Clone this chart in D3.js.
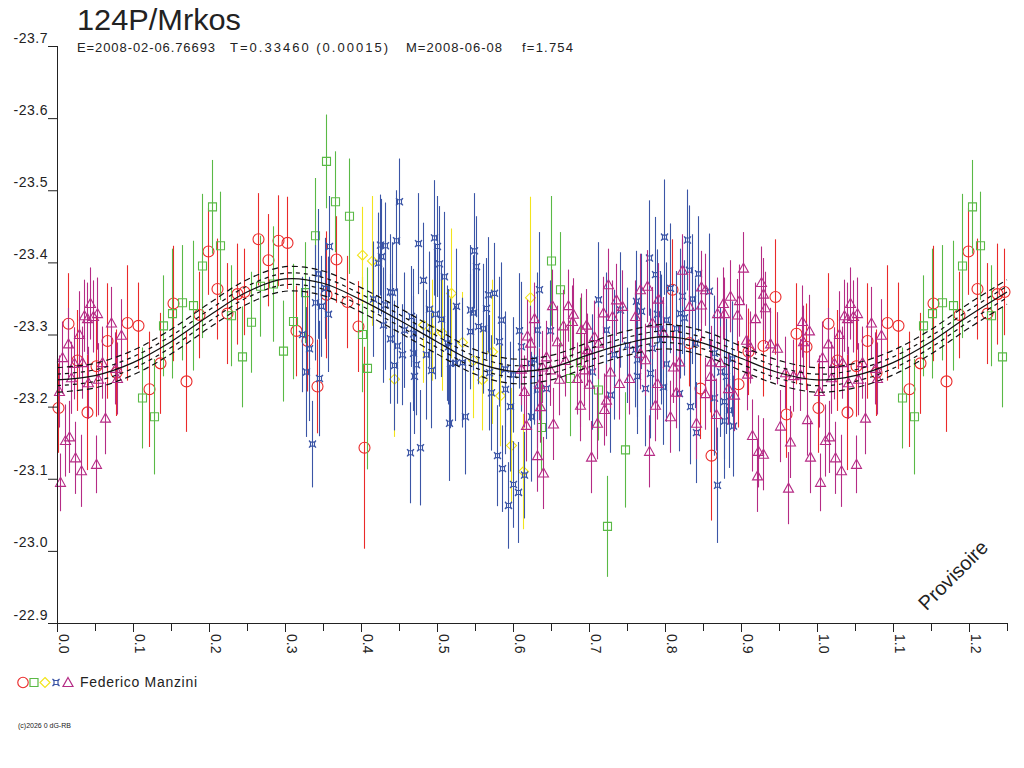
<!DOCTYPE html>
<html>
<head>
<meta charset="utf-8">
<script src="https://cdn.jsdelivr.net/npm/d3@7"></script>
<style>
  body { margin: 0; background: #fff; }
  svg { display: block; font-family: "Liberation Sans", Arial, sans-serif; }
</style>
</head>
<body>
<div id="chart"></div>
<script>
// ---- data ----
var title = "124P/Mrkos";
var subtitleParts = ["E=2008-02-06.76693", "T=0.33460 (0.00015)", "M=2008-06-08", "f=1.754"];
var observer = "Federico Manzini";
var credit = "(c)2026 0 dG-RB";
var stamp = "Provisoire";

var xTickValues = [0, 0.1, 0.2, 0.3, 0.4, 0.5, 0.6, 0.7, 0.8, 0.9, 1.0, 1.1, 1.2];
var xMinorValues = [0.05, 0.15, 0.25, 0.35, 0.45, 0.55, 0.65, 0.75, 0.85, 0.95, 1.05, 1.15, 1.25];
var yTickValues = [-23.7, -23.6, -23.5, -23.4, -23.3, -23.2, -23.1, -23.0, -22.9];

// fitted light curve, one cycle
var curvePhase = [0, 0.05, 0.1, 0.15, 0.2, 0.25, 0.3, 0.35, 0.4, 0.45, 0.5,
                  0.55, 0.6, 0.65, 0.7, 0.75, 0.8, 0.85, 0.9, 0.95, 1.0];
var curveMag = [-23.237, -23.243, -23.261, -23.290, -23.326, -23.359, -23.377, -23.371, -23.348, -23.320, -23.290,
                -23.262, -23.249, -23.254, -23.272, -23.288, -23.297, -23.288, -23.267, -23.247, -23.237];
var bandOffsets = [-0.017, -0.008, 0.008, 0.017];

// [phase, magnitude, error]
var redCircles = [
  [0.001,-23.198,0.062],[0.014,-23.315,0.07],[0.026,-23.264,0.07],[0.039,-23.192,0.08],[0.051,-23.256,0.07],
  [0.066,-23.291,0.08],[0.078,-23.247,0.06],[0.092,-23.316,0.08],[0.107,-23.312,0.06],[0.121,-23.224,0.08],
  [0.136,-23.26,0.07],[0.152,-23.343,0.08],[0.170,-23.235,0.07],[0.187,-23.327,0.06],[0.199,-23.415,0.06],
  [0.211,-23.363,0.07],[0.224,-23.329,0.07],[0.237,-23.356,0.07],[0.246,-23.359,0.06],[0.265,-23.432,0.064],
  [0.278,-23.403,0.064],[0.291,-23.43,0.063],[0.303,-23.427,0.064],[0.315,-23.305,0.063],[0.329,-23.291,0.07],
  [0.342,-23.228,0.065],[0.354,-23.355,0.088],[0.367,-23.404,0.06],[0.381,-23.345,0.064],[0.396,-23.311,0.063],
  [0.404,-23.143,0.14],[0.809,-23.362,0.07],[0.831,-23.288,0.06],[0.846,-23.225,0.07],[0.860,-23.132,0.09],
  [0.896,-23.231,0.06],[0.909,-23.276,0.06],[0.929,-23.284,0.07],[0.945,-23.352,0.08],[0.959,-23.189,0.06],
  [0.972,-23.301,0.07],[0.985,-23.283,0.06]
];
var greenSquares = [
  [0.112,-23.212,0.07],[0.127,-23.186,0.08],[0.139,-23.312,0.07],[0.151,-23.329,0.09],[0.164,-23.344,0.08],
  [0.179,-23.34,0.09],[0.191,-23.395,0.1],[0.204,-23.477,0.065],[0.215,-23.423,0.075],[0.229,-23.326,0.07],
  [0.243,-23.269,0.07],[0.255,-23.317,0.07],[0.267,-23.367,0.07],[0.284,-23.37,0.08],[0.298,-23.277,0.07],
  [0.311,-23.318,0.08],[0.326,-23.358,0.07],[0.340,-23.437,0.08],[0.354,-23.54,0.065],[0.366,-23.484,0.07],
  [0.384,-23.464,0.08],[0.401,-23.30,0.08],[0.408,-23.253,0.14],[0.637,-23.171,0.06],[0.65,-23.402,0.09],
  [0.662,-23.362,0.08],[0.675,-23.239,0.08],[0.688,-23.261,0.09],[0.712,-23.223,0.07],[0.724,-23.034,0.07],
  [0.748,-23.14,0.08]
];
var yellowDiamonds = [
  [0.401,-23.41,0.067],[0.414,-23.402,0.09],[0.443,-23.238,0.08],[0.482,-23.313,0.08],[0.494,-23.306,0.07],
  [0.506,-23.302,0.08],[0.519,-23.357,0.09],[0.533,-23.289,0.07],[0.548,-23.264,0.08],[0.559,-23.237,0.07],
  [0.572,-23.276,0.1],[0.583,-23.215,0.07],[0.597,-23.146,0.08],[0.613,-23.11,0.08],[0.622,-23.351,0.14]
];
var blueStars = [
  [0.358,-23.422,0.07],[0.343,-23.384,0.09],[0.340,-23.344,0.08],[0.348,-23.339,0.07],[0.356,-23.328,0.08],
  [0.353,-23.364,0.07],[0.323,-23.30,0.08],[0.332,-23.28,0.1],[0.327,-23.248,0.09],[0.345,-23.239,0.08],
  [0.335,-23.148,0.06],[0.425,-23.424,0.07],[0.431,-23.423,0.06],[0.450,-23.484,0.06],[0.446,-23.43,0.07],
  [0.426,-23.408,0.08],[0.423,-23.399,0.07],[0.416,-23.349,0.08],[0.432,-23.341,0.09],[0.438,-23.359,0.08],
  [0.441,-23.358,0.07],[0.429,-23.313,0.08],[0.438,-23.294,0.09],[0.448,-23.284,0.08],[0.454,-23.272,0.07],
  [0.443,-23.257,0.09],[0.464,-23.136,0.07],[0.478,-23.143,0.08],[0.475,-23.426,0.07],[0.482,-23.375,0.08],
  [0.496,-23.434,0.08],[0.500,-23.422,0.07],[0.502,-23.398,0.08],[0.509,-23.38,0.09],[0.490,-23.335,0.08],
  [0.498,-23.328,0.09],[0.505,-23.321,0.08],[0.466,-23.325,0.07],[0.457,-23.306,0.08],[0.469,-23.301,0.09],
  [0.468,-23.274,0.08],[0.472,-23.258,0.07],[0.470,-23.242,0.08],[0.486,-23.272,0.09],[0.492,-23.25,0.08],
  [0.515,-23.283,0.08],[0.517,-23.26,0.09],[0.516,-23.177,0.08],[0.549,-23.416,0.08],[0.551,-23.394,0.07],
  [0.525,-23.339,0.08],[0.543,-23.334,0.09],[0.548,-23.33,0.08],[0.564,-23.336,0.07],[0.567,-23.355,0.08],
  [0.575,-23.357,0.07],[0.584,-23.32,0.08],[0.554,-23.311,0.08],[0.560,-23.308,0.09],[0.544,-23.304,0.08],
  [0.581,-23.29,0.09],[0.608,-23.305,0.08],[0.634,-23.362,0.08],[0.649,-23.305,0.07],[0.631,-23.306,0.08],
  [0.611,-23.283,0.09],[0.513,-23.288,0.08],[0.524,-23.26,0.08],[0.533,-23.261,0.09],[0.569,-23.247,0.08],
  [0.589,-23.252,0.08],[0.600,-23.244,0.08],[0.589,-23.224,0.09],[0.571,-23.219,0.08],[0.596,-23.20,0.09],
  [0.622,-23.26,0.08],[0.628,-23.265,0.09],[0.631,-23.223,0.08],[0.644,-23.225,0.07],[0.624,-23.186,0.09],
  [0.537,-23.186,0.08],[0.579,-23.132,0.07],[0.586,-23.114,0.06],[0.600,-23.092,0.06],[0.607,-23.081,0.07],
  [0.594,-23.063,0.06],[0.614,-23.105,0.06],[0.750,-23.285,0.08],[0.760,-23.279,0.08],[0.763,-23.242,0.08],
  [0.762,-23.346,0.07],[0.712,-23.348,0.08],[0.722,-23.306,0.08],[0.733,-23.272,0.09],[0.741,-23.334,0.08],
  [0.704,-23.248,0.08],[0.728,-23.216,0.08],[0.799,-23.435,0.08],[0.829,-23.431,0.07],[0.779,-23.406,0.08],
  [0.787,-23.383,0.08],[0.844,-23.384,0.08],[0.831,-23.389,0.09],[0.807,-23.364,0.09],[0.823,-23.353,0.08],
  [0.835,-23.349,0.09],[0.858,-23.36,0.08],[0.769,-23.332,0.08],[0.790,-23.328,0.09],[0.801,-23.32,0.08],
  [0.820,-23.329,0.09],[0.825,-23.323,0.08],[0.793,-23.308,0.08],[0.795,-23.293,0.09],[0.814,-23.308,0.08],
  [0.839,-23.288,0.09],[0.783,-23.281,0.08],[0.801,-23.259,0.08],[0.763,-23.265,0.08],[0.780,-23.246,0.09],
  [0.774,-23.225,0.08],[0.798,-23.227,0.08],[0.819,-23.218,0.08],[0.864,-23.274,0.08],[0.888,-23.266,0.08],
  [0.872,-23.248,0.09],[0.880,-23.242,0.08],[0.864,-23.212,0.08],[0.877,-23.207,0.08],[0.884,-23.195,0.08],
  [0.878,-23.18,0.08],[0.890,-23.173,0.07],[0.833,-23.20,0.08],[0.841,-23.164,0.07],[0.868,-23.091,0.08]
];
var magentaTriangles = [
  [0.004,-23.095,0.04],[0.002,-23.221,0.05],[0.007,-23.268,0.05],[0.014,-23.287,0.05],[0.010,-23.153,0.05],
  [0.016,-23.158,0.05],[0.024,-23.129,0.05],[0.031,-23.111,0.05],[0.051,-23.12,0.04],[0.018,-23.24,0.05],
  [0.022,-23.26,0.05],[0.029,-23.30,0.06],[0.033,-23.261,0.05],[0.036,-23.326,0.05],[0.040,-23.322,0.05],
  [0.044,-23.343,0.05],[0.047,-23.325,0.05],[0.053,-23.329,0.05],[0.041,-23.233,0.05],[0.054,-23.238,0.05],
  [0.059,-23.261,0.05],[0.063,-23.184,0.05],[0.071,-23.316,0.05],[0.076,-23.253,0.05],[0.079,-23.239,0.05],
  [0.084,-23.299,0.05],
  [0.725,-23.369,0.05],[0.651,-23.34,0.05],[0.672,-23.34,0.05],[0.679,-23.328,0.05],[0.666,-23.312,0.05],
  [0.677,-23.318,0.05],[0.690,-23.307,0.05],[0.696,-23.313,0.05],[0.718,-23.33,0.05],[0.730,-23.325,0.05],
  [0.735,-23.348,0.05],[0.744,-23.339,0.05],[0.627,-23.322,0.05],[0.619,-23.298,0.05],[0.622,-23.288,0.05],
  [0.658,-23.29,0.05],[0.644,-23.269,0.05],[0.649,-23.251,0.05],[0.638,-23.255,0.05],[0.611,-23.252,0.05],
  [0.614,-23.221,0.05],[0.634,-23.231,0.05],[0.661,-23.238,0.05],[0.668,-23.264,0.05],[0.693,-23.251,0.05],
  [0.684,-23.239,0.05],[0.700,-23.231,0.05],[0.707,-23.297,0.05],[0.712,-23.288,0.05],[0.697,-23.279,0.05],
  [0.728,-23.248,0.05],[0.740,-23.232,0.05],[0.752,-23.239,0.05],[0.636,-23.20,0.05],[0.653,-23.176,0.05],
  [0.688,-23.202,0.05],[0.710,-23.177,0.05],[0.720,-23.196,0.05],[0.722,-23.209,0.05],[0.617,-23.174,0.05],
  [0.631,-23.132,0.05],[0.639,-23.108,0.05],[0.703,-23.13,0.05],
  [0.903,-23.392,0.05],[0.926,-23.372,0.05],[0.929,-23.356,0.05],[0.932,-23.337,0.05],[0.886,-23.353,0.05],
  [0.876,-23.343,0.05],[0.869,-23.329,0.05],[0.878,-23.329,0.05],[0.898,-23.347,0.05],[0.895,-23.327,0.05],
  [0.918,-23.322,0.05],[0.823,-23.389,0.05],[0.767,-23.362,0.05],[0.776,-23.367,0.05],[0.791,-23.349,0.05],
  [0.847,-23.366,0.05],[0.853,-23.362,0.05],[0.848,-23.341,0.05],[0.832,-23.339,0.05],[0.783,-23.316,0.05],
  [0.798,-23.302,0.05],[0.819,-23.262,0.05],[0.811,-23.255,0.05],[0.774,-23.265,0.05],[0.789,-23.232,0.05],
  [0.814,-23.22,0.05],[0.787,-23.202,0.05],[0.807,-23.186,0.05],[0.779,-23.138,0.05],[0.841,-23.177,0.05],
  [0.867,-23.189,0.05],[0.859,-23.242,0.05],[0.907,-23.292,0.05],[0.912,-23.282,0.05],[0.908,-23.245,0.05],
  [0.938,-23.287,0.05],[0.947,-23.281,0.05],[0.958,-23.247,0.05],[0.969,-23.243,0.05],[0.977,-23.244,0.05],
  [0.980,-23.318,0.05],[0.990,-23.305,0.05],[0.982,-23.29,0.05],[0.951,-23.173,0.05],[0.965,-23.151,0.05],
  [0.987,-23.182,0.05],[0.991,-23.13,0.05],[0.962,-23.087,0.05],[0.921,-23.104,0.05],[0.923,-23.138,0.05],
  [0.929,-23.134,0.05],[0.915,-23.16,0.05],[0.861,-23.262,0.05],[0.872,-23.261,0.05],[0.853,-23.218,0.05],
  [0.883,-23.225,0.05],[0.891,-23.216,0.05],[0.761,-23.325,0.05],[0.767,-23.274,0.05]
];

// ---- layout ----
var width = 1024, height = 768;
var margin = {top: 46, right: 17, bottom: 145, left: 57};

var svg = d3.select("#chart").append("svg")
  .attr("width", width)
  .attr("height", height);

var x = d3.scaleLinear()
  .domain([0, 1.25])
  .range([margin.left, width - margin.right]);

var y = d3.scaleLinear()
  .domain([-23.7, -22.9])
  .range([margin.top, height - margin.bottom]);

// phases up to 0.25 are shown again one cycle later
function wrapPhase(points) {
  var extra = points.filter(function(p){ return p[0] <= 0.25; })
    .map(function(p){ return [p[0] + 1, p[1], p[2]]; });
  return points.concat(extra);
}

var series = [
  {name: "red", data: redCircles, color: "#ea2a2a", shape: "circle"},
  {name: "green", data: greenSquares, color: "#5ab946", shape: "square"},
  {name: "yellow", data: yellowDiamonds, color: "#f2e41c", shape: "diamond"},
  {name: "blue", data: blueStars, color: "#3b55a6", shape: "star"},
  {name: "magenta", data: magentaTriangles, color: "#b52b85", shape: "triangle"}
];

var shapePath = {
  circle: d3.symbol().type(d3.symbolCircle).size(95)(),
  square: "M-4,-4H4V4H-4Z",
  diamond: "M0,-5L5,0L0,5L-5,0Z",
  star: "M-3.5,-3.5L-1.5,-2H1.5L3.5,-3.5L2,-1.5V1.5L3.5,3.5L1.5,2H-1.5L-3.5,3.5L-2,1.5V-1.5Z",
  triangle: "M0,-5L5,4H-5Z"
};

// ---- points with error bars ----
series.forEach(function(s){
  var g = svg.append("g").attr("class", "series " + s.name);
  var pts = wrapPhase(s.data);

  g.selectAll("line")
    .data(pts)
    .enter().append("line")
      .attr("x1", function(d){ return Math.round(x(d[0])) + 0.5; })
      .attr("x2", function(d){ return Math.round(x(d[0])) + 0.5; })
      .attr("y1", function(d){ return y(d[1] - d[2]); })
      .attr("y2", function(d){ return y(d[1] + d[2]); })
      .attr("stroke", s.color)
      .attr("stroke-width", 1.1);

  g.selectAll("path")
    .data(pts)
    .enter().append("path")
      .attr("d", shapePath[s.shape])
      .attr("transform", function(d){ return "translate(" + (Math.round(x(d[0])) + 0.5) + "," + y(d[1]) + ")"; })
      .attr("fill", "none")
      .attr("stroke", s.color)
      .attr("stroke-width", 1.1);
});

// ---- fitted curve and its band ----
var curvePts = curvePhase.map(function(p, i){ return [p, curveMag[i]]; });
curvePts = curvePts.concat(curvePts.filter(function(d){ return d[0] > 0 && d[0] <= 0.25; })
  .map(function(d){ return [d[0] + 1, d[1]]; }));

function curveLine(offset) {
  return d3.line()
    .x(function(d){ return x(d[0]); })
    .y(function(d){ return y(d[1] + offset); })
    .curve(d3.curveCatmullRom)(curvePts);
}

var curveG = svg.append("g").attr("class", "curve");
bandOffsets.forEach(function(o){
  curveG.append("path")
    .attr("d", curveLine(o))
    .attr("fill", "none")
    .attr("stroke", "#111")
    .attr("stroke-width", 1.2)
    .attr("stroke-dasharray", Math.abs(o) > 0.01 ? "6,4" : "4,4");
});
curveG.append("path")
  .attr("d", curveLine(0))
  .attr("fill", "none")
  .attr("stroke", "#111")
  .attr("stroke-width", 1.2);

// ---- axes ----
var yAxis = d3.axisLeft(y)
  .tickValues(yTickValues)
  .tickSize(9)
  .tickFormat(function(d){ return d.toFixed(1); });

var yg = svg.append("g")
  .attr("transform", "translate(" + margin.left + ",0)")
  .call(yAxis);
yg.select(".domain").attr("d", "M0.5," + y(-23.7) + "V" + y(-22.9)).attr("stroke", "#222");
yg.selectAll(".tick line").attr("stroke", "#222");
yg.selectAll(".tick text")
  .attr("x", -9)
  .attr("dy", "-0.28em")
  .attr("fill", "#222")
  .style("font-size", "14px")
  .style("letter-spacing", "0.5px")
  .style("font-family", "'Liberation Sans', Arial, sans-serif");

var xAxis = d3.axisBottom(x)
  .tickValues(xTickValues)
  .tickSize(9)
  .tickFormat(function(d){ return d.toFixed(1); });

var xg = svg.append("g")
  .attr("transform", "translate(0," + y(-22.9) + ")")
  .call(xAxis);
xg.select(".domain").attr("d", "M" + (margin.left - 9) + ",0.5H" + x(1.25)).attr("stroke", "#222");
xg.selectAll(".tick line").attr("stroke", "#222");
xg.selectAll(".tick text")
  .attr("y", 0)
  .attr("dy", 0)
  .attr("transform", "translate(1,11) rotate(90)")
  .style("text-anchor", "start")
  .attr("fill", "#222")
  .style("font-size", "14px")
  .style("font-family", "'Liberation Sans', Arial, sans-serif");

xg.selectAll(".minor")
  .data(xMinorValues)
  .enter().append("line")
    .attr("class", "minor")
    .attr("x1", function(d){ return Math.round(x(d)) + 0.5; })
    .attr("x2", function(d){ return Math.round(x(d)) + 0.5; })
    .attr("y1", 0)
    .attr("y2", 8)
    .attr("stroke", "#222");

// ---- texts ----
svg.append("text")
  .attr("x", 77).attr("y", 30)
  .attr("fill", "#222")
  .attr("textLength", 164)
  .attr("lengthAdjust", "spacingAndGlyphs")
  .style("font-size", "30px")
  .text(title);

var subX = [77, 230, 406, 522];
var subLen = [138, 158, 96, 51];
svg.selectAll(".subtitle")
  .data(subtitleParts)
  .enter().append("text")
    .attr("class", "subtitle")
    .attr("x", function(d, i){ return subX[i]; })
    .attr("y", 52)
    .attr("fill", "#222")
    .attr("textLength", function(d, i){ return subLen[i]; })
    .attr("lengthAdjust", "spacing")
    .style("font-size", "13px")
    .text(function(d){ return d; });

svg.append("text")
  .attr("transform", "translate(958,580) rotate(-45)")
  .attr("text-anchor", "middle")
  .attr("fill", "#222")
  .style("font-size", "20px")
  .text(stamp);

// legend
var legendX = [23, 34, 45, 56, 68];
var legend = svg.append("g").attr("class", "legend");
series.forEach(function(s, i){
  legend.append("path")
    .attr("d", shapePath[s.shape])
    .attr("transform", "translate(" + legendX[i] + ",682.5)" + (s.shape === "circle" ? " scale(0.95)" : ""))
    .attr("fill", "none")
    .attr("stroke", s.color)
    .attr("stroke-width", 1.2);
});
legend.append("text")
  .attr("x", 80).attr("y", 687)
  .attr("fill", "#222")
  .attr("textLength", 117)
  .attr("lengthAdjust", "spacing")
  .style("font-size", "14px")
  .text(observer);

svg.append("text")
  .attr("x", 18).attr("y", 728)
  .attr("fill", "#222")
  .style("font-size", "7px")
  .text(credit);
</script>
</body>
</html>
